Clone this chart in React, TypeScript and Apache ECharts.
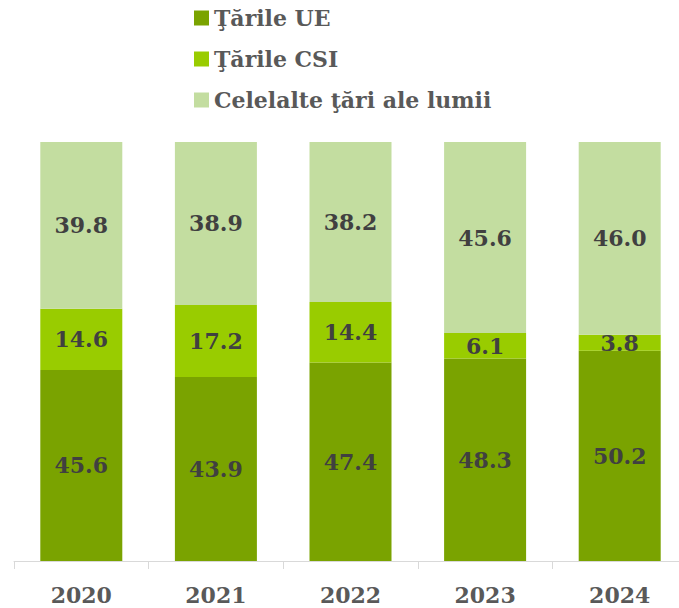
import React, { useEffect, useRef } from "react";
import * as echarts from "echarts";

const categories = ["2020", "2021", "2022", "2023", "2024"];
const seriesNames = ["Ţările UE", "Ţările CSI", "Celelalte ţări ale lumii"];
const ueValues = [45.6, 43.9, 47.4, 48.3, 50.2];
const csiValues = [14.6, 17.2, 14.4, 6.1, 3.8];
const otherValues = [39.8, 38.9, 38.2, 45.6, 46.0];
const colors = ["#7aa300", "#99cc00", "#c3dda0"];

const FONT = "'DejaVu Serif', serif";

export default function App() {
  const ref = useRef<HTMLDivElement>(null);
  useEffect(() => {
    document.body.style.margin = "0";
    document.body.style.overflow = "hidden";
    if (!ref.current) return;
    const chart = echarts.init(ref.current, undefined, { renderer: "svg" });
    const label = {
      show: true,
      position: "inside",
      formatter: (p: any) => Number(p.value).toFixed(1),
      fontFamily: FONT,
      fontWeight: "bold",
      fontSize: 22,
      color: "#404040",
    };
    const data = [ueValues, csiValues, otherValues];
    chart.setOption({
      animation: false,
      legend: {
        orient: "vertical",
        left: 189,
        top: 2,
        itemGap: 19,
        itemWidth: 15,
        itemHeight: 15,
        icon: "rect",
        textStyle: {
          fontFamily: FONT,
          fontWeight: "bold",
          fontSize: 22,
          color: "#595959",
        },
        data: seriesNames,
      },
      grid: { left: 14, top: 142, width: 673, height: 419, containLabel: false },
      xAxis: {
        type: "category",
        data: categories,
        axisLine: { lineStyle: { color: "#d9d9d9", width: 1 } },
        axisTick: { show: true, length: 8, lineStyle: { color: "#d9d9d9" } },
        axisLabel: {
          fontFamily: FONT,
          fontWeight: "bold",
          fontSize: 22,
          color: "#595959",
          margin: 23,
        },
      },
      yAxis: { type: "value", min: 0, max: 100, show: false },
      series: seriesNames.map((name, i) => ({
        name,
        type: "bar",
        stack: "total",
        barWidth: 82,
        data: data[i],
        itemStyle: { color: colors[i] },
        label,
      })),
    });
    return () => chart.dispose();
  }, []);
  return <div ref={ref} style={{ width: 700, height: 608 }} />;
}
